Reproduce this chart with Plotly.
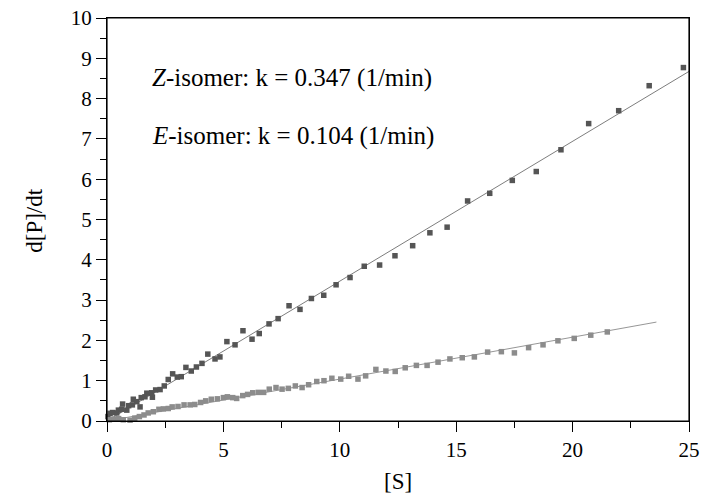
import plotly.graph_objects as go

# Z-isomer data
z_x = [0.04, 0.13, 0.24, 0.42, 0.49, 0.63, 0.67, 0.85, 0.93, 1.09, 1.13, 1.28, 1.42, 1.47,
       1.63, 1.71, 1.92, 1.95, 2.09, 2.28, 2.46, 2.63, 2.82, 3.02, 3.19, 3.39, 3.62, 3.84,
       4.08, 4.33, 4.64, 4.85, 5.15, 5.50, 5.84, 6.23, 6.54, 6.96, 7.35, 7.82, 8.29, 8.78,
       9.31, 9.84, 10.44, 11.05, 11.71, 12.37, 13.13, 13.87, 14.61, 15.49, 16.44, 17.41,
       18.44, 19.50, 20.69, 21.98, 23.29, 24.76]
z_y = [0.11, 0.19, 0.21, 0.20, 0.27, 0.29, 0.42, 0.27, 0.38, 0.40, 0.54, 0.48, 0.35, 0.58,
       0.60, 0.69, 0.70, 0.59, 0.77, 0.78, 0.87, 1.03, 1.17, 1.09, 1.10, 1.33, 1.24, 1.34,
       1.43, 1.66, 1.54, 1.59, 1.97, 1.89, 2.24, 2.03, 2.17, 2.41, 2.54, 2.86, 2.77, 3.04,
       3.12, 3.38, 3.56, 3.84, 3.87, 4.10, 4.35, 4.67, 4.81, 5.46, 5.65, 5.97,
       6.19, 6.73, 7.38, 7.70, 8.32, 8.77]

# E-isomer data
e_x = [0.10, 0.30, 0.50, 0.70, 0.99, 1.19, 1.39, 1.59, 1.77, 1.99, 2.23, 2.42, 2.63, 2.80,
       3.05, 3.31, 3.57, 3.77, 4.02, 4.24, 4.48, 4.74, 5.00, 5.17, 5.40, 5.57, 5.83, 6.04,
       6.26, 6.50, 6.73, 6.97, 7.26, 7.52, 7.79, 8.09, 8.38, 8.66, 9.01, 9.32, 9.66, 10.04,
       10.38, 10.78, 11.11, 11.55, 11.98, 12.38, 12.81, 13.29, 13.75, 14.22, 14.73, 15.26,
       15.78, 16.35, 16.94, 17.50, 18.11, 18.73, 19.37, 20.07, 20.78, 21.49]
e_y = [0.03, 0.05, 0.06, 0.03, 0.02, 0.07, 0.11, 0.15, 0.20, 0.23, 0.29, 0.30, 0.31, 0.35,
       0.36, 0.40, 0.40, 0.41, 0.46, 0.50, 0.54, 0.55, 0.58, 0.60, 0.58, 0.56, 0.63, 0.66,
       0.70, 0.71, 0.71, 0.79, 0.83, 0.79, 0.81, 0.87, 0.83, 0.90, 0.98, 1.00, 1.06, 1.04,
       1.11, 1.04, 1.12, 1.28, 1.24, 1.23, 1.32, 1.38, 1.38, 1.46, 1.54, 1.57,
       1.59, 1.71, 1.72, 1.69, 1.82, 1.89, 1.99, 2.05, 2.13, 2.21]

# fitted rate constants and fit-line extents
k_z = 0.347
k_e = 0.104
fit_z_x = [0, 25]
fit_e_x = [0, 23.6]

FONT = "Liberation Serif"

fig = go.Figure()
fig.add_trace(go.Scatter(x=fit_z_x, y=[k_z * v for v in fit_z_x], mode="lines",
                         line=dict(color="#6e6e6e", width=0.9), showlegend=False))
fig.add_trace(go.Scatter(x=fit_e_x, y=[k_e * v for v in fit_e_x], mode="lines",
                         line=dict(color="#8a8a8a", width=0.9), showlegend=False))
fig.add_trace(go.Scatter(x=z_x, y=z_y, mode="markers", cliponaxis=False,
                         marker=dict(symbol="square", size=5.5, color="#555555"),
                         showlegend=False))
fig.add_trace(go.Scatter(x=e_x, y=e_y, mode="markers", cliponaxis=False,
                         marker=dict(symbol="square", size=5.5, color="#8c8c8c"),
                         showlegend=False))

fig.add_annotation(x=0.074, y=0.851, xref="paper", yref="paper", xanchor="left",
                   yanchor="middle", showarrow=False,
                   text=f"<i>Z</i>-isomer: k = {k_z:.3f} (1/min)",
                   font=dict(family=FONT, size=25, color="black"))
fig.add_annotation(x=0.074, y=0.707, xref="paper", yref="paper", xanchor="left",
                   yanchor="middle", showarrow=False,
                   text=f"<i>E</i>-isomer: k = {k_e:.3f} (1/min)",
                   font=dict(family=FONT, size=25, color="black"))
# axis titles
fig.add_annotation(x=0.5, y=-0.151, xref="paper", yref="paper", xanchor="center",
                   yanchor="middle", showarrow=False, text="[S]",
                   font=dict(family=FONT, size=23, color="black"))
fig.add_annotation(x=-0.124, y=0.499, xref="paper", yref="paper", xanchor="center",
                   yanchor="middle", showarrow=False, text="d[P]/dt", textangle=-90,
                   font=dict(family=FONT, size=23, color="black"))

# plot frame
fig.add_shape(type="rect", xref="paper", yref="paper", x0=0, y0=0, x1=1, y1=1,
              line=dict(color="black", width=1.2), layer="above")

axis_common = dict(showline=True, linecolor="black", linewidth=1.2, mirror=True,
                   showgrid=False, zeroline=False, ticks="outside", tickcolor="black",
                   tickwidth=1.2, automargin=False, ticklabeloverflow="allow",
                   tickfont=dict(family=FONT, size=21, color="black"))

fig.update_xaxes(range=[0, 25], dtick=5, tick0=0, ticklen=10,
                 minor=dict(dtick=2.5, ticklen=6, ticks="outside", tickcolor="black",
                            tickwidth=1.2),
                 **axis_common)
fig.update_yaxes(range=[0, 10], dtick=1, tick0=0, ticklen=10,
                 minor=dict(dtick=0.5, ticklen=6, ticks="outside", tickcolor="black",
                            tickwidth=1.2),
                 **axis_common)

fig.update_layout(width=702, height=494, margin=dict(l=107, r=13, t=18, b=73),
                  plot_bgcolor="white", paper_bgcolor="white",
                  font=dict(family=FONT, color="black"))

# remove the default 8px page margin so the figure fills the window exactly
fig.write_html("out.html", config={"displayModeBar": False},
               post_script="document.body.style.margin='0';document.body.style.overflow='hidden';")
